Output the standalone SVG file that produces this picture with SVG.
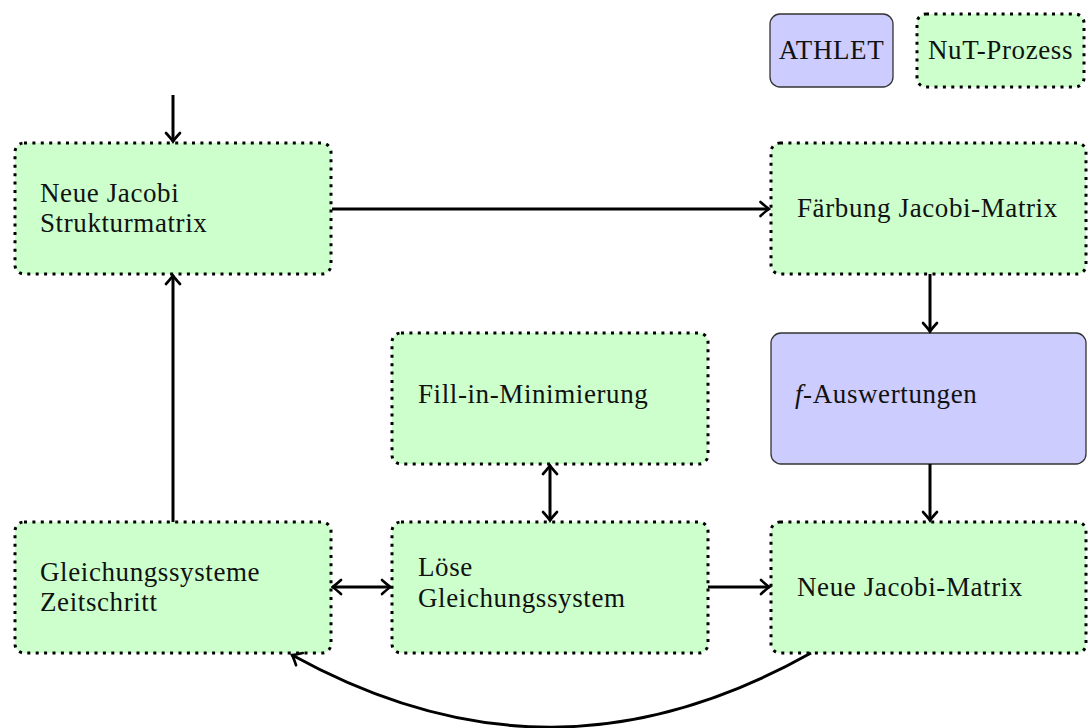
<svg xmlns="http://www.w3.org/2000/svg" width="1088" height="728" viewBox="0 0 1088 728">
  <style>
    .nut { fill: #ccffcc; stroke: #000; stroke-width: 3; stroke-dasharray: 3 5.4; }
    .ath { fill: #ccccff; stroke: #333; stroke-width: 1.3; }
    .lbl { font-family: "Liberation Serif", "DejaVu Serif", serif; font-size: 27px; letter-spacing: 0.6px; fill: #111; }
    .mid { text-anchor: middle; }
    .conn { fill: none; stroke: #000; stroke-width: 3; }
  </style>
  <defs>
    <marker id="tip" viewBox="-11 -9 13 18" refX="0" refY="0" markerWidth="13" markerHeight="18" markerUnits="userSpaceOnUse" orient="auto-start-reverse">
      <path d="M-8.5,-7 C-5,-3.8 -1.6,-1 0,0 C-1.6,1 -5,3.8 -8.5,7" fill="none" stroke="#000" stroke-width="2.6" stroke-linecap="round"/>
    </marker>
  </defs>

  <rect width="1088" height="728" fill="#fff"/>

  <!-- legend -->
  <g id="legend-athlet">
    <rect class="ath" x="770" y="14" width="123" height="73" rx="10"/>
    <text class="lbl mid" x="831.5" y="59">ATHLET</text>
  </g>
  <g id="legend-nut">
    <rect class="nut" x="917" y="14" width="167" height="73" rx="9"/>
    <text class="lbl mid" x="1000.5" y="59">NuT-Prozess</text>
  </g>

  <!-- process nodes -->
  <g id="strukturmatrix">
    <rect class="nut" x="15" y="143" width="316" height="131" rx="9"/>
    <text class="lbl" x="40" y="202">Neue Jacobi</text>
    <text class="lbl" x="40" y="232">Strukturmatrix</text>
  </g>
  <g id="faerbung">
    <rect class="nut" x="771" y="143" width="315" height="131" rx="9"/>
    <text class="lbl" x="797" y="217">Färbung Jacobi-Matrix</text>
  </g>
  <g id="fillin">
    <rect class="nut" x="392" y="333" width="316" height="131" rx="9"/>
    <text class="lbl" x="418" y="403">Fill-in-Minimierung</text>
  </g>
  <g id="auswertungen">
    <rect class="ath" x="771" y="333" width="315" height="131" rx="10"/>
    <text class="lbl" x="795" y="403"><tspan font-style="italic">f</tspan>-Auswertungen</text>
  </g>
  <g id="gleichungssysteme">
    <rect class="nut" x="15" y="522" width="316" height="131" rx="9"/>
    <text class="lbl" x="40" y="581">Gleichungssysteme</text>
    <text class="lbl" x="40" y="611">Zeitschritt</text>
  </g>
  <g id="loese">
    <rect class="nut" x="392" y="522" width="316" height="131" rx="9"/>
    <text class="lbl" x="418" y="576">Löse</text>
    <text class="lbl" x="418" y="607">Gleichungssystem</text>
  </g>
  <g id="jacobimatrix">
    <rect class="nut" x="771" y="522" width="315" height="131" rx="9"/>
    <text class="lbl" x="797" y="596">Neue Jacobi-Matrix</text>
  </g>

  <!-- connectors -->
  <g id="connectors">
    <path class="conn" d="M173,95 V141.5" marker-end="url(#tip)"/>
    <path class="conn" d="M332,209 H769" marker-end="url(#tip)"/>
    <path class="conn" d="M930,274 V331.5" marker-end="url(#tip)"/>
    <path class="conn" d="M930,464 V520.5" marker-end="url(#tip)"/>
    <path class="conn" d="M550,465.5 V520.5" marker-start="url(#tip)" marker-end="url(#tip)"/>
    <path class="conn" d="M332.5,587 H390.5" marker-start="url(#tip)" marker-end="url(#tip)"/>
    <path class="conn" d="M708,587 H769.5" marker-end="url(#tip)"/>
    <path class="conn" d="M173,522 V275.5" marker-end="url(#tip)"/>
    <path class="conn" d="M811,653 C636,751 468,752 292,655" marker-end="url(#tip)"/>
  </g>
</svg>
